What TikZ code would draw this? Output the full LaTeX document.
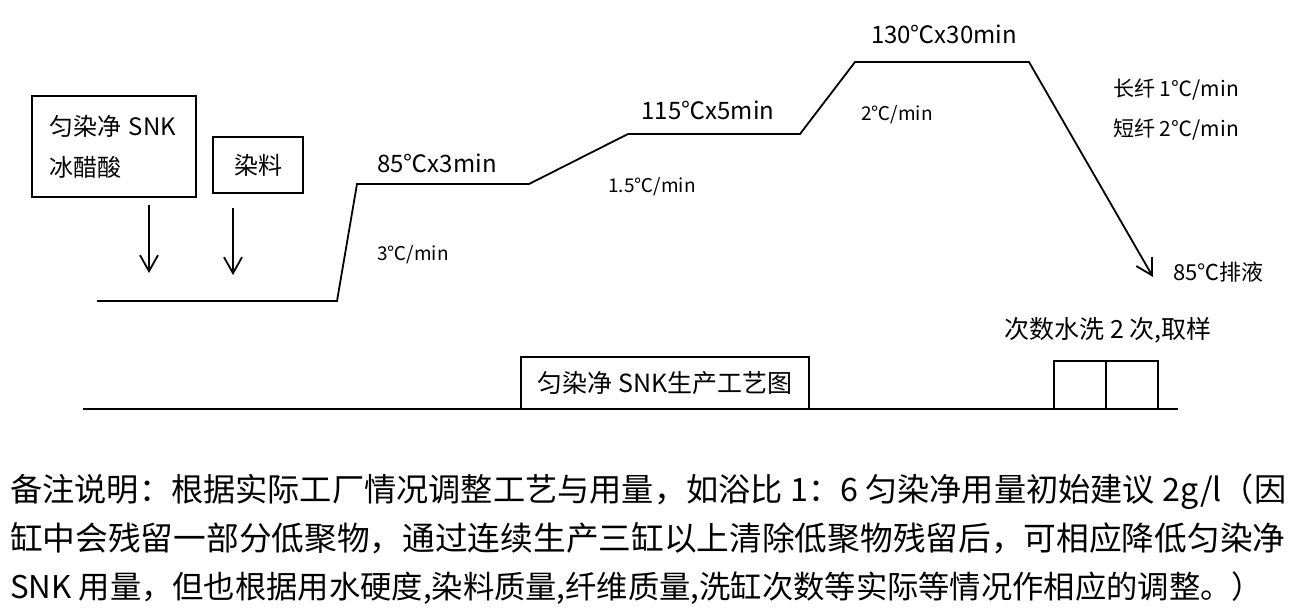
\documentclass[tikz,border=0pt]{standalone}
\usepackage{fontspec}
\setmainfont{Noto Sans CJK SC}
\usetikzlibrary{arrows.meta}
\usetikzlibrary{positioning}
\tikzset{>={Straight Barb[length=16pt,width=18pt]}}
\tikzset{
  profile/.style={line width=1.8pt,line join=miter},
  boxnode/.style={draw,line width=1.8pt,inner sep=0pt,outer sep=0pt},
  bigtext/.style={font=\fontsize{24}{28}\selectfont},
  smalltext/.style={font=\fontsize{19}{23}\selectfont},
  sidetext/.style={font=\fontsize{21}{25}\selectfont},
  notetext/.style={font=\fontsize{32.7}{40}\selectfont,inner sep=0pt},
}

\begin{document}
\begin{tikzpicture}[x=1pt,y=-1pt]
			\useasboundingbox (0,0) rectangle (1301,614);
			\coordinate (S) at (97,301);
			\coordinate (R1) at (337,301);
			\coordinate (P1) at (357,184);
			\coordinate (R2) at (529,184);
			\coordinate (P2) at (628,134);
			\coordinate (R3) at (800,134);
			\coordinate (P3) at (855,62);
			\coordinate (D) at (1029,62);
			\coordinate (E) at (1153,277);
			\draw[profile,->] (S)--(R1)--(P1)--(R2)--(P2)--(R3)--(P3)--(D)--(E);
			
			\node[boxnode,minimum width=164pt,minimum height=101pt,align=left,text width=130pt,inner xsep=17pt,font=\fontsize{24}{41}\selectfont] (aux) at (114,146.5) {匀染净 SNK\\冰醋酸};
			\node[boxnode,minimum width=90pt,minimum height=56pt,font=\fontsize{24}{28}\selectfont] (dye) at (258,165) {染料};
			\coordinate (a1s) at (149,205);
			\coordinate (a1e) at (149,273);
			\coordinate (a2s) at (233,208);
			\coordinate (a2e) at (233,275);
			\draw[profile,->] (a1s)--(a1e);
			\draw[profile,->] (a2s)--(a2e);
			
			\node[bigtext] (hold1) at (437,163) {85℃x3min};
			\node[bigtext] (hold2) at (708,110) {115℃x5min};
			\node[bigtext] (hold3) at (944,34) {130℃x30min};
			\node[smalltext] (rate1) at (413,255) {3℃/min};
			\node[smalltext] (rate2) at (652,187) {1.5℃/min};
			\node[smalltext] (rate3) at (897,115) {2℃/min};
			\node[sidetext,anchor=west,inner sep=0pt] (long) at (1113,90) {长纤 1℃/min};
			\node[sidetext,anchor=west,inner sep=0pt] (short) at (1113,130) {短纤 2℃/min};
			\node[font=\fontsize{22}{26}\selectfont,anchor=west,inner sep=0pt] (drain) at (1173,272) {85℃排液};
			\node[font=\fontsize{25}{29}\selectfont] (wash) at (1108,330) {次数水洗 2 次,取样};
			
			\coordinate (L) at (83,409);
			\coordinate (M) at (1178,409);
			\node[boxnode,minimum width=288pt,minimum height=52pt,anchor=south,font=\fontsize{25}{29}\selectfont] (title) at (665,409) {匀染净 SNK生产工艺图};
			\node[boxnode,minimum width=52pt,minimum height=48pt,anchor=south west] (wash1) at (1054,409) {};
			\node[boxnode,minimum width=52pt,minimum height=48pt,right=0pt of wash1] (wash2) {};
			\draw[profile] (L)--(M);
			
			\node[notetext,anchor=base west,font=\fontsize{32.2}{40}\selectfont] (note1) at (10,501) {备注说明：根据实际工厂情况调整工艺与用量，如浴比 1：6 匀染净用量初始建议 2g/l（因};
			\node[notetext,anchor=base west] (note2) at (10,550) {缸中会残留一部分低聚物，通过连续生产三缸以上清除低聚物残留后，可相应降低匀染净};
			\node[notetext,anchor=base west,font=\fontsize{31.3}{40}\selectfont] (note3) at (10,598) {SNK 用量，但也根据用水硬度,染料质量,纤维质量,洗缸次数等实际等情况作相应的调整。）};
			
		\end{tikzpicture}
\end{document}
